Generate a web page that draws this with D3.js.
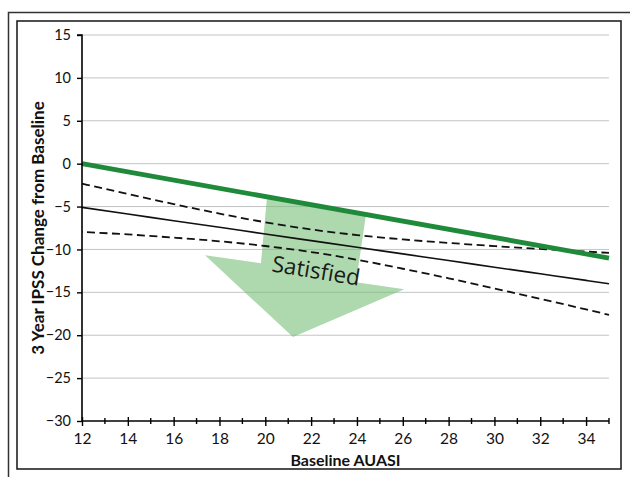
<!DOCTYPE html>
<html>
<head>
<meta charset="utf-8">
<script src="https://cdn.jsdelivr.net/npm/d3@7"></script>
<style>
  html, body { margin: 0; padding: 0; background: #fff; }
  svg { display: block; }
  text { font-variant-ligatures: none; }
</style>
</head>
<body>
<svg id="chart" width="630" height="477"></svg>
<script>
// Baseline AUASI values and tick labels
const xTicks = [12, 14, 16, 18, 20, 22, 24, 26, 28, 30, 32, 34];
const yTicks = [15, 10, 5, 0, -5, -10, -15, -20, -25, -30];

// Regression fit and its confidence band, sampled along Baseline AUASI
const bandX     = [12, 14, 16, 18, 20, 22, 24, 26, 28, 30, 32, 34, 35];
const fitY      = [-5.10, -5.87, -6.65, -7.42, -8.20, -8.97, -9.74, -10.52, -11.29, -12.07, -12.84, -13.61, -14.00];
const upperY    = [-2.33, -3.53, -4.71, -5.82, -6.83, -7.67, -8.32, -8.83, -9.24, -9.61, -9.94, -10.25, -10.40];
const lowerY    = [-7.95, -8.25, -8.62, -9.05, -9.60, -10.30, -11.20, -12.25, -13.36, -14.55, -15.76, -16.99, -17.62];

// Threshold line for satisfied patients
const thresholdX = [12, 35];
const thresholdY = [0, -11];

// "Satisfied" arrow outline, in data units (AUASI, IPSS change)
const arrowX = [20.07, 24.39, 23.96, 26.06, 21.21, 17.37, 19.81];
const arrowY = [-4.03, -6.01, -13.82, -14.63, -20.22, -10.68, -11.61];

const svg = d3.select("#chart");
const font = "Lato, 'Open Sans', sans-serif";

// Frames
svg.append("rect").attr("x", 8.5).attr("y", 12.5).attr("width", 640).attr("height", 480)
  .attr("fill", "none").attr("stroke", "#333").attr("stroke-width", 1.5);
svg.append("rect").attr("x", 17).attr("y", 21).attr("width", 604).attr("height", 448)
  .attr("fill", "#fff").attr("stroke", "#222").attr("stroke-width", 1.6);

const x = d3.scaleLinear().domain([12, 35]).range([82, 609]);
const y = d3.scaleLinear().domain([-30, 15]).range([421, 35]);

// Horizontal gridlines
svg.append("g").selectAll("line").data(yTicks.filter(d => d !== -30)).join("line")
  .attr("x1", x(12)).attr("x2", x(35))
  .attr("y1", d => y(d)).attr("y2", d => y(d))
  .attr("stroke", "#c4c4c4").attr("stroke-width", 1);

// Arrow
const arrowPts = arrowX.map((v, i) => [x(v), y(arrowY[i])]);
svg.append("path")
  .attr("d", d3.line()(arrowPts) + "Z")
  .attr("fill", "rgb(120,190,120)").attr("fill-opacity", 0.6);

// Lines
const line = d3.line().x(d => x(d[0])).y(d => y(d[1])).curve(d3.curveMonotoneX);
const pairs = (xs, ys) => xs.map((v, i) => [v, ys[i]]);

svg.append("path").attr("d", line(pairs(bandX, upperY)))
  .attr("fill", "none").attr("stroke", "#111").attr("stroke-width", 1.8)
  .attr("stroke-dasharray", "8,4.5");
svg.append("path").attr("d", line(pairs(bandX, lowerY)))
  .attr("fill", "none").attr("stroke", "#111").attr("stroke-width", 1.8)
  .attr("stroke-dasharray", "8,4.5").attr("stroke-dashoffset", -5);
svg.append("path").attr("d", line(pairs(bandX, fitY)))
  .attr("fill", "none").attr("stroke", "#111").attr("stroke-width", 1.6);
svg.append("path").attr("d", line(pairs(thresholdX, thresholdY)))
  .attr("fill", "none").attr("stroke", "#1f8a3a").attr("stroke-width", 4.8);

// Arrow label
svg.append("text")
  .attr("transform", `translate(${x(22.2)},${y(-12.7)}) rotate(9.5)`)
  .attr("text-anchor", "middle").attr("dominant-baseline", "middle")
  .attr("font-family", "'Open Sans', sans-serif").attr("font-size", 22.5).attr("fill", "#1a1a1a")
  .text("Satisfied");

// Axes
const yAxis = d3.axisLeft(y).tickValues(yTicks).tickSize(5).tickPadding(6).tickFormat(d3.format("d"));
const gy = svg.append("g").attr("transform", `translate(${x(12)},0)`).call(yAxis);
gy.select(".domain").attr("stroke", "#000").attr("stroke-width", 1.6).attr("d", `M-5,${y(15)}H0V${y(-30)}`);
gy.selectAll(".tick line").attr("stroke", "#000").attr("stroke-width", 1.4);
gy.selectAll(".tick text").attr("font-family", font).attr("font-size", 14.5).attr("fill", "#111");

const xMinor = d3.range(13, 36, 2);
const gxMinor = svg.append("g").attr("transform", `translate(0,${y(-30)})`);
gxMinor.selectAll("line").data(xMinor).join("line")
  .attr("x1", d => x(d)).attr("x2", d => x(d)).attr("y1", -3).attr("y2", 3)
  .attr("stroke", "#000").attr("stroke-width", 1.4);

const xAxis = d3.axisBottom(x).tickValues(xTicks).tickSize(5).tickPadding(7).tickFormat(d3.format("d"));
const gx = svg.append("g").attr("transform", `translate(0,${y(-30)})`).call(xAxis);
gx.select(".domain").attr("stroke", "#000").attr("stroke-width", 1.6).attr("d", `M${x(12)},0H${x(35)}`);
gx.selectAll(".tick line").attr("stroke", "#000").attr("stroke-width", 1.4).attr("y1", -4);
gx.selectAll(".tick text").attr("font-family", font).attr("font-size", 15.5).attr("fill", "#111");

// Axis titles
svg.append("text").attr("x", (x(12) + x(35)) / 2).attr("y", 466)
  .attr("text-anchor", "middle").attr("font-family", font).attr("font-weight", "bold")
  .attr("font-size", 16).attr("fill", "#111").text("Baseline AUASI");
svg.append("text").attr("transform", `translate(44,${(y(15) + y(-30)) / 2}) rotate(-90)`)
  .attr("text-anchor", "middle").attr("font-family", font).attr("font-weight", "bold")
  .attr("font-size", 17).attr("fill", "#111").text("3 Year IPSS Change from Baseline");
</script>
</body>
</html>
